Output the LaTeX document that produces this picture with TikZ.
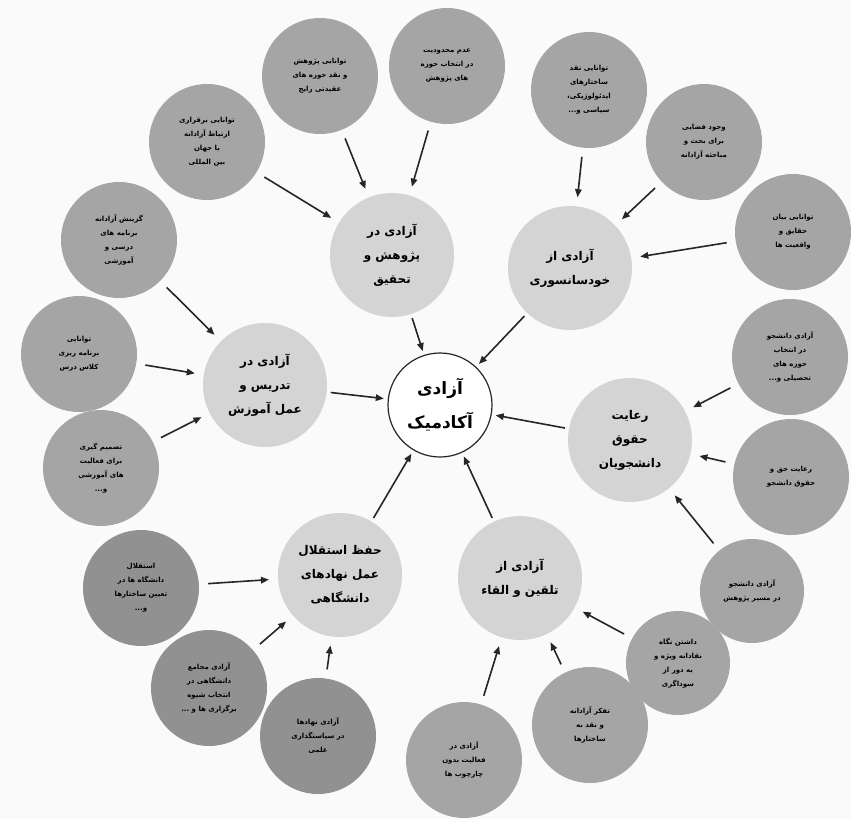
\documentclass[tikz,border=0pt]{standalone}
\usepackage{fontspec}
\usetikzlibrary{arrows.meta}
\newfontfamily\farsi[Script=Arabic]{DejaVu Sans}
\TeXXeTstate=1
\newcommand{\fl}[1]{\beginR #1\endR}
\definecolor{outerc}{RGB}{165,165,165}
\definecolor{outerd}{RGB}{145,145,145}
\definecolor{midc}{RGB}{212,212,212}
\definecolor{bgc}{RGB}{250,250,250}
\tikzset{
  outer/.style={circle, fill=outerc, minimum size=116pt, inner sep=0pt, align=center,
    font=\farsi\bfseries\fontsize{7}{14}\selectfont},
  outerdark/.style={outer, fill=outerd},
  small/.style={minimum size=104pt},
  mid/.style={circle, fill=midc, minimum size=124pt, inner sep=0pt, align=center,
    font=\farsi\bfseries\fontsize{12}{24}\selectfont},
  core/.style={circle, fill=white, draw=black!85, line width=1.2pt, minimum size=104pt, inner sep=0pt, align=center,
    font=\farsi\bfseries\fontsize{17}{34}\selectfont},
  arr/.style={-{Triangle[length=8pt,width=6.5pt]}, line width=1.6pt, black!85, shorten >=9pt, shorten <=9pt},
  carr/.style={arr, shorten >=4pt, shorten <=4pt}
}
\begin{document}
\begin{tikzpicture}[x=1pt,y=-1pt]
\fill[bgc] (0,0) rectangle (851,819);
\useasboundingbox (0,0) rectangle (851,819);

% center
\node[core] (c) at (440,405) {\fl{آزادی}\\\fl{آکادمیک}};

% middle ring
\node[mid] (m1) at (392,255) {\fl{آزادی در}\\\fl{پژوهش و}\\\fl{تحقیق}};
\node[mid] (m2) at (570,268) {\fl{آزادی از}\\\fl{خودسانسوری}};
\node[mid] (m3) at (265,385) {\fl{آزادی در}\\\fl{تدریس و}\\\fl{عمل آموزش}};
\node[mid] (m4) at (630,440) {\fl{رعایت}\\\fl{حقوق}\\\fl{دانشجویان}};
\node[mid] (m5) at (340,575) {\fl{حفظ استقلال}\\\fl{عمل نهادهای}\\\fl{دانشگاهی}};
\node[mid] (m6) at (520,578) {\fl{آزادی از}\\\fl{تلقین و القاء}};

% outer ring
\node[outer] (o1) at (447,66) {\fl{عدم محدودیت}\\\fl{در انتخاب حوزه}\\\fl{های پژوهش}};
\node[outer] (o2) at (320,76) {\fl{توانایی پژوهش}\\\fl{و نقد حوزه های}\\\fl{عقیدتی رایج}};
\node[outer] (o3) at (207,142) {\fl{توانایی برقراری}\\\fl{ارتباط آزادانه}\\\fl{با جهان}\\\fl{بین المللی}};
\node[outer] (o4) at (119,240) {\fl{گزینش آزادانه}\\\fl{برنامه های}\\\fl{درسی و}\\\fl{آموزشی}};
\node[outer] (o5) at (79,354) {\fl{توانایی}\\\fl{برنامه ریزی}\\\fl{کلاس درس}};
\node[outer] (o6) at (101,468) {\fl{تصمیم گیری}\\\fl{برای فعالیت}\\\fl{های آموزشی}\\\fl{و...}};
\node[outerdark] (o7) at (141,588) {\fl{استقلال}\\\fl{دانشگاه ها در}\\\fl{تعیین ساختارها}\\\fl{و...}};
\node[outerdark] (o8) at (209,688) {\fl{آزادی مجامع}\\\fl{دانشگاهی در}\\\fl{انتخاب شیوه}\\\fl{برگزاری ها و ...}};
\node[outerdark] (o9) at (318,736) {\fl{آزادی نهادها}\\\fl{در سیاستگذاری}\\\fl{علمی}};
\node[outer] (o10) at (464,760) {\fl{آزادی در}\\\fl{فعالیت بدون}\\\fl{چارچوب ها}};
\node[outer] (o11) at (590,725) {\fl{تفکر آزادانه}\\\fl{و نقد به}\\\fl{ساختارها}};
\node[outer, small] (o12) at (678,663) {\fl{داشتن نگاه}\\\fl{نقادانه ویژه و}\\\fl{به دور از}\\\fl{سوداگری}};
\node[outer, small] (o13) at (752,591) {\fl{آزادی دانشجو}\\\fl{در مسیر پژوهش}};
\node[outer] (o14) at (791,477) {\fl{رعایت حق و}\\\fl{حقوق دانشجو}};
\node[outer] (o15) at (790,357) {\fl{آزادی دانشجو}\\\fl{در انتخاب}\\\fl{حوزه های}\\\fl{تحصیلی و...}};
\node[outer] (o16) at (793,232) {\fl{توانایی بیان}\\\fl{حقایق و}\\\fl{واقعیت ها}};
\node[outer] (o17) at (704,142) {\fl{وجود فضایی}\\\fl{برای بحث و}\\\fl{مباحثه آزادانه}};
\node[outer] (o18) at (589,90) {\fl{توانایی نقد}\\\fl{ساختارهای}\\\fl{ایدئولوژیکی،}\\\fl{سیاسی و...}};

% arrows outer -> middle
\foreach \o/\m in {o1/m1,o2/m1,o3/m1,o18/m2,o17/m2,o16/m2,o4/m3,o5/m3,o6/m3,
  o15/m4,o14/m4,o13/m4,o7/m5,o8/m5,o9/m5,o10/m6,o11/m6,o12/m6}
  \draw[arr] (\o) -- (\m);

% arrows middle -> center
\foreach \m in {m1,m2,m3,m4,m5,m6}
  \draw[carr] (\m) -- (c);
\end{tikzpicture}
\end{document}
